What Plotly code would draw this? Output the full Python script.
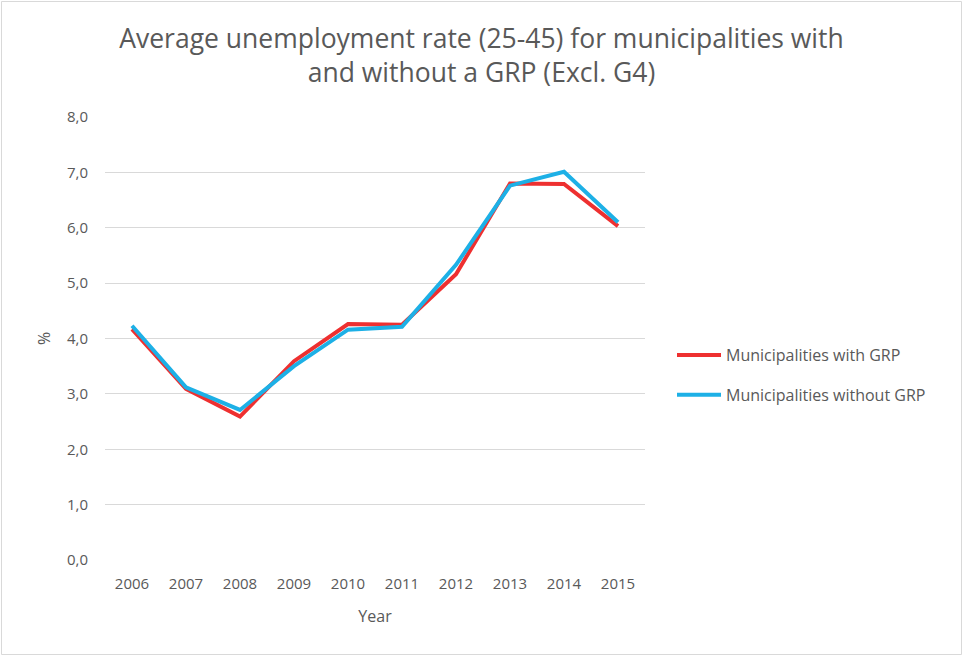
import plotly.graph_objects as go

years = ["2006", "2007", "2008", "2009", "2010", "2011", "2012", "2013", "2014", "2015"]
with_grp = [4.17, 3.09, 2.59, 3.59, 4.26, 4.25, 5.16, 6.80, 6.79, 6.03]
without_grp = [4.23, 3.12, 2.71, 3.50, 4.16, 4.21, 5.33, 6.76, 7.01, 6.10]
y_ticks = [0, 1, 2, 3, 4, 5, 6, 7, 8]
y_tick_text = ["0,0", "1,0", "2,0", "3,0", "4,0", "5,0", "6,0", "7,0", "8,0"]

FONT = "Open Sans"
GREY = "#595959"

fig = go.Figure()
fig.add_trace(go.Scatter(x=years, y=with_grp, mode="lines",
                         name="Municipalities with GRP", legendgroup="a",
                         line=dict(color="#EE3030", width=4)))
fig.add_trace(go.Scatter(x=years, y=without_grp, mode="lines",
                         name="Municipalities without GRP", legendgroup="b",
                         line=dict(color="#1DB0E6", width=4)))

W, H = 963, 656
L, R, T, B = 105, 318, 117, 96
pw, ph = W - L - R, H - T - B

fig.update_layout(
    width=W, height=H,
    margin=dict(l=L, r=R, t=T, b=B),
    paper_bgcolor="white", plot_bgcolor="white",
    font=dict(family=FONT, color=GREY, size=15),
    title=dict(text="Average unemployment rate (25-45) for municipalities with<br>and without a GRP (Excl. G4)",
               x=0.5, xref="container", xanchor="center",
               y=1 - 48 / H, yanchor="middle",
               font=dict(family=FONT, size=26.5, color=GREY)),
    xaxis=dict(type="category", range=[-0.5, 9.5], showgrid=False, showline=False, ticks="",
               tickfont=dict(size=15, color=GREY), ticklabelstandoff=13,
               title=dict(text="Year", font=dict(size=16, color=GREY), standoff=18)),
    yaxis=dict(range=[0, 8], tickvals=y_ticks, ticktext=y_tick_text,
               showgrid=True, gridcolor="#D9D9D9", gridwidth=1,
               zeroline=False, showline=False, ticks="",
               tickfont=dict(size=15, color=GREY), ticklabelstandoff=16,
               title=dict(text="%", font=dict(size=16, color=GREY), standoff=12)),
    legend=dict(x=(672 - L) / pw, xanchor="left", y=(560 - 375) / ph, yanchor="middle",
                font=dict(size=16, color=GREY), bgcolor="rgba(0,0,0,0)",
                tracegroupgap=16, itemwidth=44),
    showlegend=True,
    shapes=[dict(type="rect", xref="paper", yref="paper",
                 x0=(1.5 - L) / pw, x1=(961.5 - L) / pw,
                 y0=(560 - 654.5) / ph, y1=(560 - 1.5) / ph,
                 line=dict(color="#D9D9D9", width=1), fillcolor="rgba(0,0,0,0)",
                 layer="below")],
)

fig.write_html("out.html")
